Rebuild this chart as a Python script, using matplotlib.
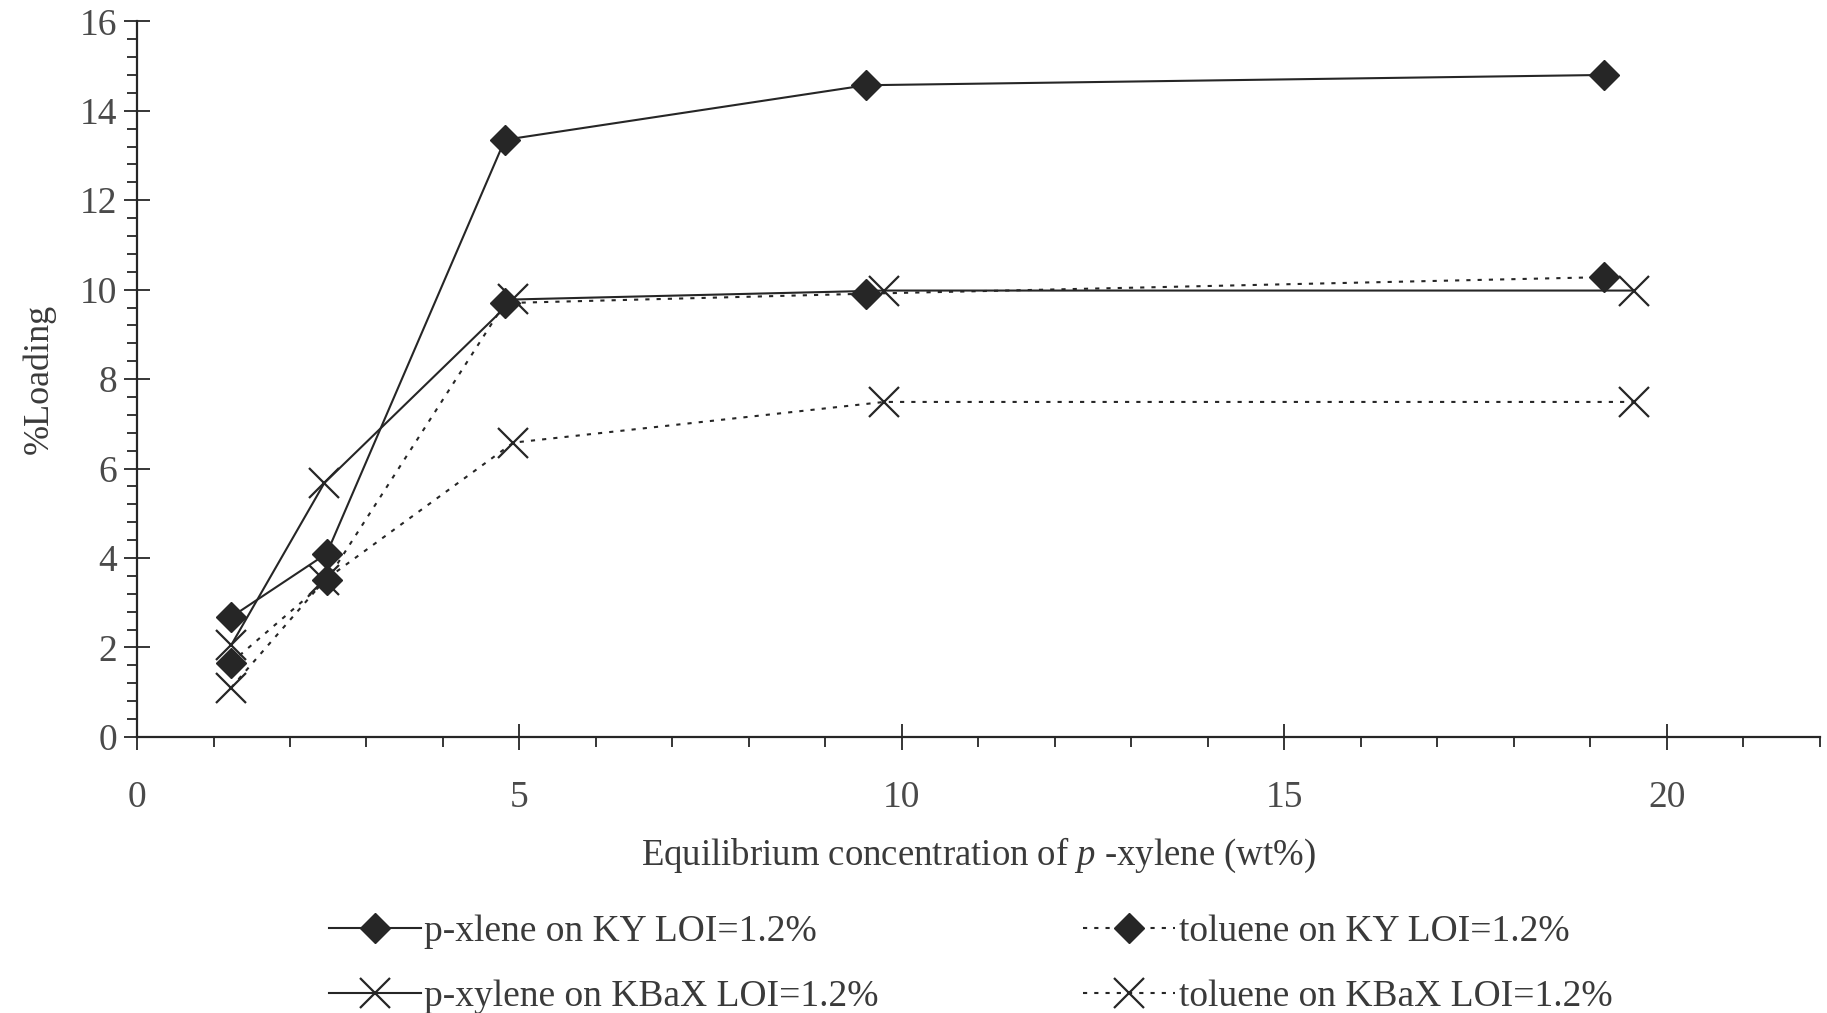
import matplotlib
matplotlib.use('Agg')
import matplotlib.pyplot as plt
from matplotlib.ticker import MultipleLocator

plt.rcParams['font.family'] = 'Liberation Serif'
plt.rcParams['mathtext.fontset'] = 'custom'
plt.rcParams['mathtext.rm'] = 'Liberation Serif'
plt.rcParams['mathtext.it'] = 'Liberation Serif:italic'

# data
x_ky = [1.23, 2.48, 4.81, 9.53, 19.18]
x_kbax = [1.23, 2.45, 4.92, 9.77, 19.57]
pxylene_ky = [2.68, 4.10, 13.35, 14.57, 14.80]
toluene_ky = [1.66, 3.50, 9.70, 9.91, 10.28]
pxylene_kbax = [2.05, 5.68, 9.78, 9.98, 9.98]
toluene_kbax = [1.10, 3.50, 6.58, 7.49, 7.49]

labels = ['p-xlene on KY LOI=1.2%', 'toluene on KY LOI=1.2%',
          'p-xylene on KBaX LOI=1.2%', 'toluene on KBaX LOI=1.2%']

ink = '#262626'
txt = '#3a3a3a'
dots = (0, (2, 3.4))

fig = plt.figure(figsize=(18.27, 10.13), dpi=100)
ax = fig.add_axes([0.075, 0.2725, 0.921, 0.7065])

l1, = ax.plot(x_ky, pxylene_ky, color=ink, lw=1.5, marker='D', ms=15,
              mfc=ink, mec=ink, label=labels[0])
l2, = ax.plot(x_ky, toluene_ky, color=ink, lw=1.5, ls=dots, marker='D', ms=15,
              mfc=ink, mec=ink, label=labels[1])
l3, = ax.plot(x_kbax, pxylene_kbax, color=ink, lw=1.5, marker='x', ms=21,
              mew=1.6, mec=ink, label=labels[2])
l4, = ax.plot(x_kbax, toluene_kbax, color=ink, lw=1.5, ls=dots, marker='x', ms=21,
              mew=1.6, mec=ink, label=labels[3])

ax.set_xlim(0, 22)
ax.set_ylim(0, 16)
ax.xaxis.set_major_locator(MultipleLocator(5))
ax.xaxis.set_minor_locator(MultipleLocator(1))
ax.yaxis.set_major_locator(MultipleLocator(2))
ax.yaxis.set_minor_locator(MultipleLocator(0.4))

for s in ['top', 'right']:
    ax.spines[s].set_visible(False)
for s in ['left', 'bottom']:
    ax.spines[s].set_linewidth(1.6)
    ax.spines[s].set_color(ink)

ax.tick_params(which='major', direction='inout', length=19, width=1.3, color=ink,
               labelsize=27, labelcolor='#4a4a4a')
ax.tick_params(which='minor', direction='out', length=7, width=1.3, color=ink)
ax.tick_params(axis='x', which='major', pad=22)
ax.tick_params(axis='y', which='major', pad=5)

ax.set_xlabel(r'Equilibrium concentration of $p$ -xylene (wt%)', fontsize=26.5,
              color=txt, labelpad=15)
ax.set_ylabel('%Loading', fontsize=26, color=txt, labelpad=17)

common = dict(frameon=False, fontsize=27, handlelength=2.45, handletextpad=0.1,
              labelspacing=0.8, borderpad=0, borderaxespad=0, numpoints=1,
              labelcolor=txt)
fig.legend([l1, l3], [labels[0], labels[2]], loc='upper left',
           bbox_to_anchor=(0.18, 0.097), **common)
fig.legend([l2, l4], [labels[1], labels[3]], loc='upper left',
           bbox_to_anchor=(0.593, 0.097), **common)

fig.savefig('out.png', dpi=100)
